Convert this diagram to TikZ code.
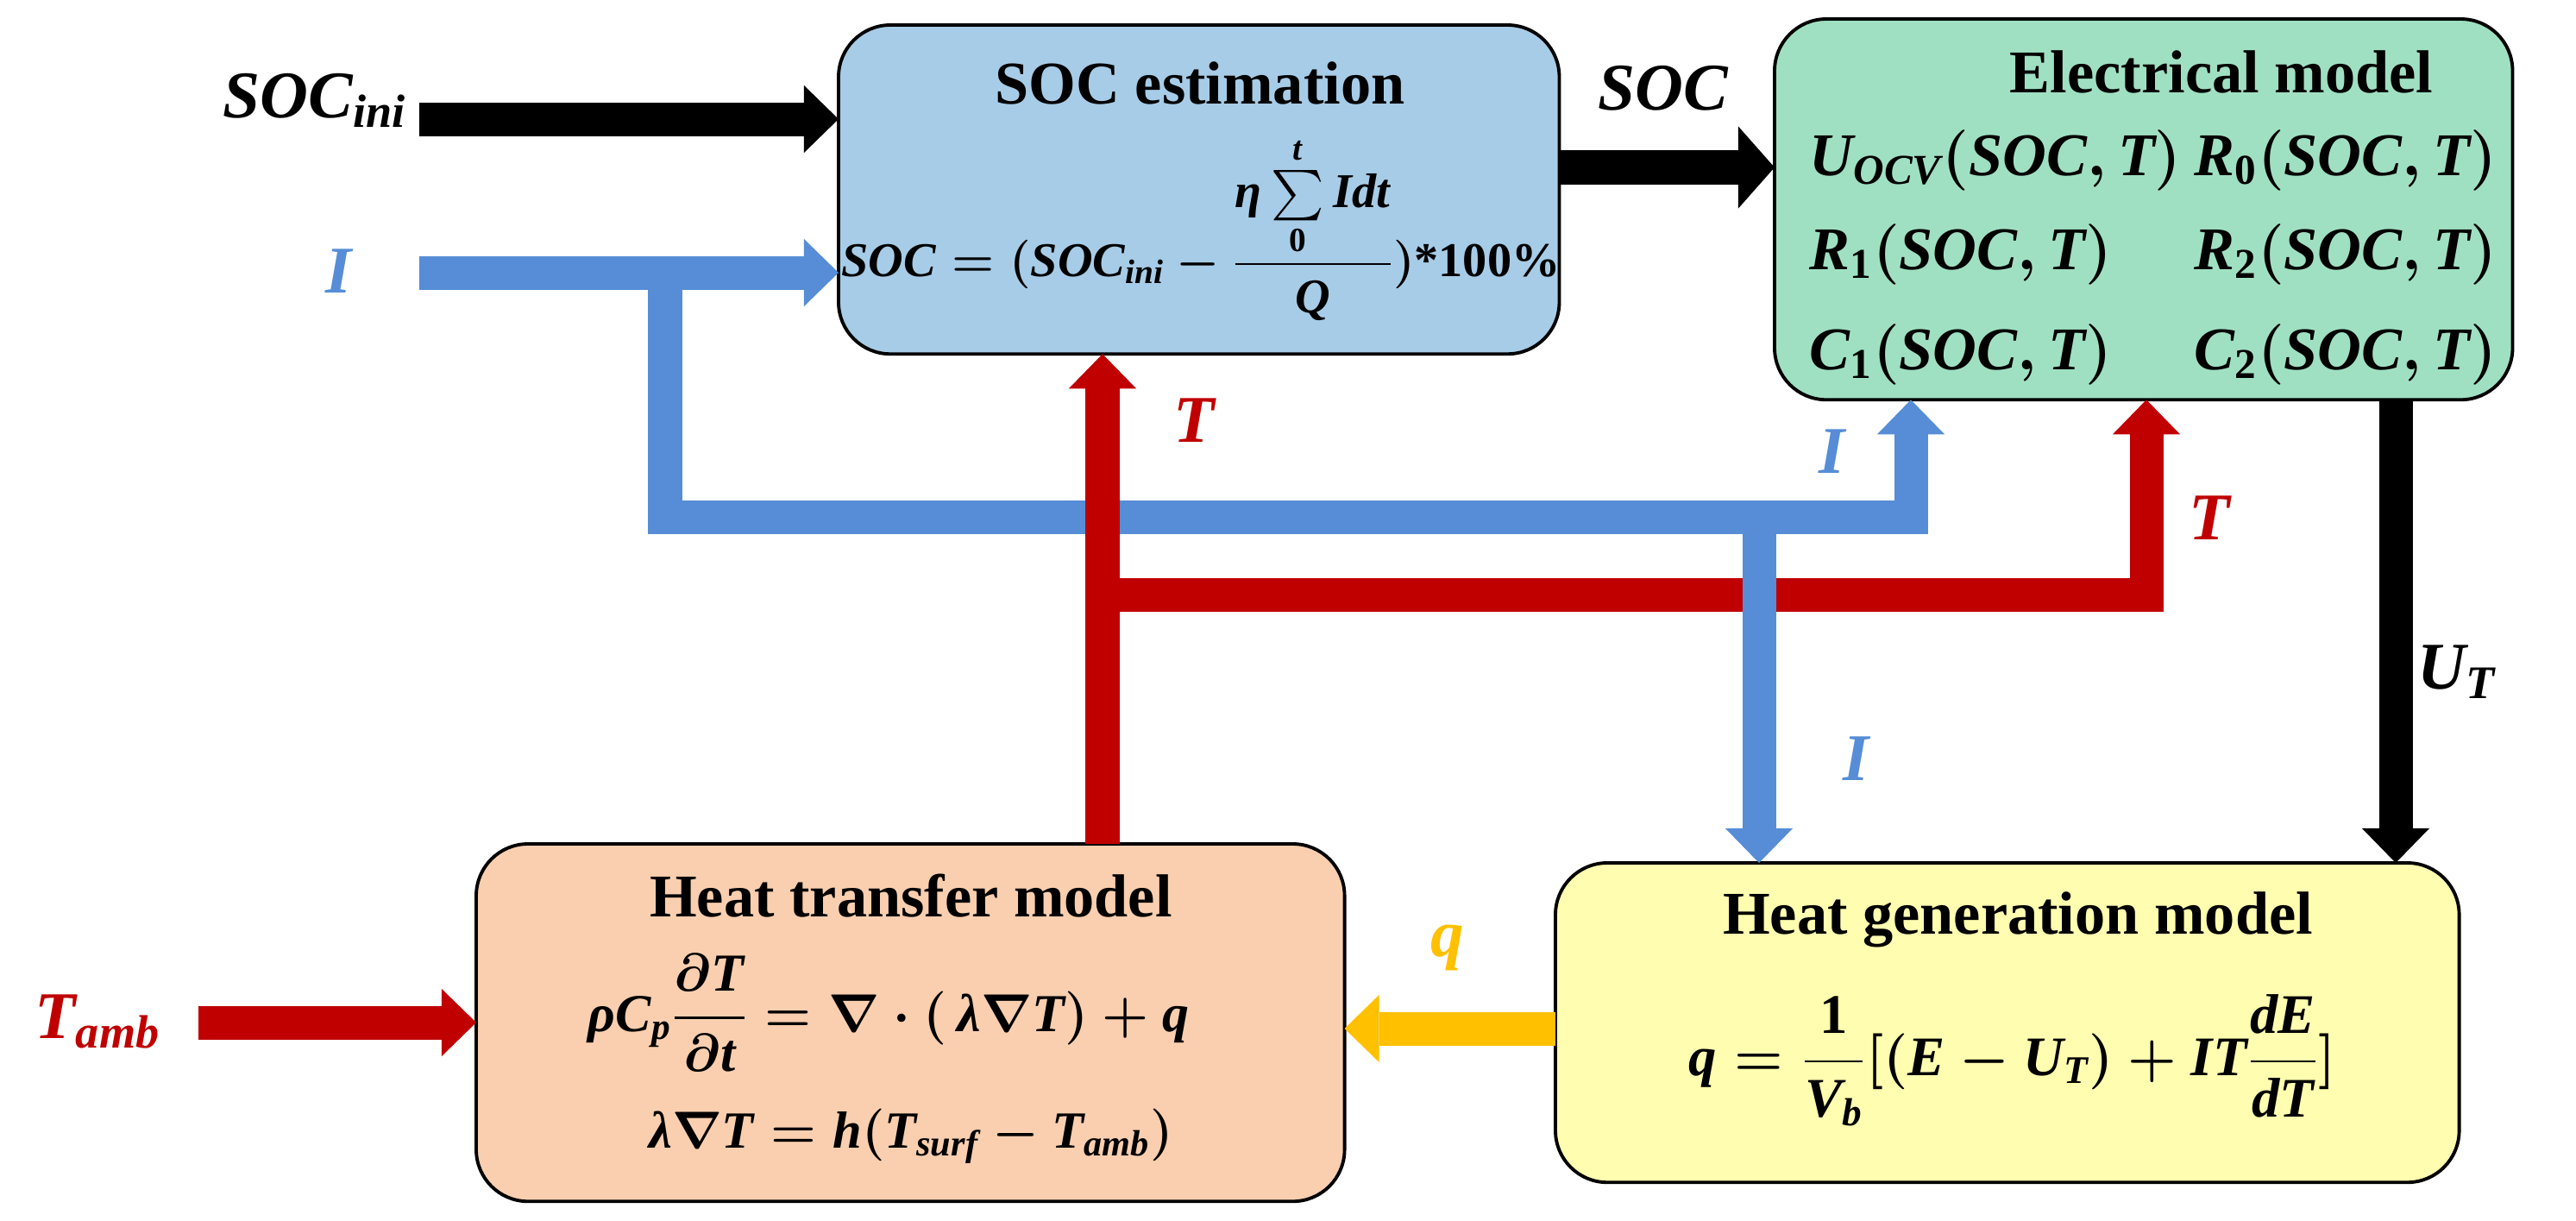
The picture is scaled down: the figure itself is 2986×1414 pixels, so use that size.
\RequirePackage{fix-cm}
\documentclass[tikz,border=0pt]{standalone}
\usepackage{amsmath}
\usepackage{graphicx}
\usepackage{fontspec}
\setmainfont{Liberation Serif}
\usetikzlibrary{arrows.meta}
\definecolor{socfill}{RGB}{167,204,231}
\definecolor{elfill}{RGB}{160,224,194}
\definecolor{htfill}{RGB}{249,207,175}
\definecolor{hgfill}{RGB}{255,253,176}
\definecolor{ablue}{RGB}{86,141,214}
\definecolor{ared}{RGB}{192,0,0}
\definecolor{ayel}{RGB}{255,192,0}
\newcommand\V[1]{\text{\bfseries\itshape #1}}
\newcommand\U[1]{\text{\bfseries #1}}
\tikzset{
  box/.style={draw=black, line width=1.1pt, rounded corners=0.6cm, anchor=north west, outer sep=0pt, inner sep=0pt},
  ttl/.style={font=\fontsize{20}{24}\selectfont\bfseries, inner sep=0pt, anchor=base},
  eqn/.style={font=\fontsize{20}{24}\selectfont\boldmath, inner sep=0pt, anchor=base},
  lab/.style={font=\fontsize{22}{26}\selectfont\boldmath, inner sep=0pt, anchor=base},
  seg/.style={line width=0.39cm, line join=miter},
  fat/.style={seg, -{Triangle[width=0.78cm,length=0.4cm,line width=0pt]}},
  fatter/.style={line width=0.40cm, -{Triangle[width=0.95cm,length=0.42cm,line width=0pt]}},
}
\begin{document}
\begin{tikzpicture}[x=0.01cm, y=-0.01cm]
\fill[white] (0,0) rectangle (2986,1414);
\useasboundingbox (0,0) rectangle (2986,1414);

% boxes
\node[box, fill=socfill, minimum width=8.35cm, minimum height=3.81cm] (soc) at (972,29) {};
\node[box, fill=elfill, minimum width=8.55cm, minimum height=4.41cm] (elec) at (2057,22) {};
\node[box, fill=htfill, minimum width=10.06cm, minimum height=4.14cm] (ht) at (552,978) {};
\node[box, fill=hgfill, minimum width=10.47cm, minimum height=3.70cm] (hg) at (1803,1000) {};

% coordinates
\coordinate (sinis) at (486,138);
\coordinate (socy) at (0,194);
\coordinate (iin) at (486,316);
\coordinate (bj) at (771,316);
\coordinate (bh) at (771,599);
\coordinate (bu) at (2215,599);
\coordinate (bd) at (2039,599);
\coordinate (rv) at (1278,689);
\coordinate (rh) at (2488,689);
\coordinate (ut) at (2777,0);
\coordinate (qy) at (0,1192);
\coordinate (tas) at (230,1185);

% connectors
\draw[fat, black] (sinis) -- (sinis -| soc.west);
\draw[fatter, black] (soc.east |- socy) -- (elec.west |- socy);
\draw[fat, ablue] (iin) -- (iin -| soc.west);
\draw[fat, ablue] (bj) -- (bh) -- (bu) -- (bu |- elec.south);
\draw[fat, ared] (rv |- ht.north) -- (rv |- soc.south);
\draw[fat, ared] (rv) -- (rh) -- (rh |- elec.south);
\draw[fat, ablue] (bd) -- (bd |- hg.north);
\draw[fat, black] (ut |- elec.south) -- (ut |- hg.north);
\draw[fat, ayel] (hg.west |- qy) -- (ht.east |- qy);
\draw[fat, ared] (tas) -- (tas -| ht.west);

% box texts
\node[ttl] (soct) at (1391,120) {SOC estimation};
\node[eqn] (soce) at (1392,320) {\scalebox{0.8}{$\V{SOC}=(\V{SOC}_{\V{ini}}-\dfrac{\V{η}\sum\limits_{\U{0}}^{\V{t}}\V{Idt}}{\V{Q}})\U{*100\%}$}};

\node[ttl] (elt) at (2575,107) {Electrical model};
\node[eqn, anchor=base west] (e1) at (2097,203) {$\V{U}_{\V{OCV}}(\V{SOC},\V{T})$};
\node[eqn, anchor=base west] (e2) at (2543,203) {$\V{R}_{\U{0}}(\V{SOC},\V{T})$};
\node[eqn, anchor=base west] (e3) at (2097,312) {$\V{R}_{\U{1}}(\V{SOC},\V{T})$};
\node[eqn, anchor=base west] (e4) at (2543,312) {$\V{R}_{\U{2}}(\V{SOC},\V{T})$};
\node[eqn, anchor=base west] (e5) at (2097,428) {$\V{C}_{\U{1}}(\V{SOC},\V{T})$};
\node[eqn, anchor=base west] (e6) at (2543,428) {$\V{C}_{\U{2}}(\V{SOC},\V{T})$};

\node[ttl] (htt) at (1056,1062) {Heat transfer model};
\node[eqn] (hte1) at (1030,1195) {\scalebox{0.88}{$\V{ρ}\V{C}_{\V{p}}\dfrac{\partial\V{T}}{\partial\V{t}}=\nabla\cdot(\,\V{λ}\nabla\V{T})+\V{q}$}};
\node[eqn] (hte2) at (1056,1330) {\scalebox{0.86}{$\V{λ}\nabla\V{T}=\V{h}(\V{T}_{\V{surf}}-\V{T}_{\V{amb}})$}};

\node[ttl] (hgt) at (2339,1082) {Heat generation model};
\node[eqn] (hge) at (2333,1246) {\scalebox{0.92}{$\V{q}=\dfrac{\U{1}}{\V{V}_{\V{b}}}[(\V{E}-\V{U}_{\V{T}})+\V{IT}\dfrac{\V{dE}}{\V{dT}}]$}};

% outside labels
\node[lab, anchor=base east] (lsocini) at (472,136) {$\V{SOC}_{\V{ini}}$};
\node[lab, text=ablue] (lI1) at (393,339) {$\V{I}$};
\node[lab] (lsoc) at (1928,127) {$\V{SOC}$};
\node[lab, text=ared] (lT1) at (1384,512) {$\V{T}$};
\node[lab, text=ablue] (lI2) at (2124,548) {$\V{I}$};
\node[lab, text=ared] (lT2) at (2561,625) {$\V{T}$};
\node[lab] (lUT) at (2848,798) {$\V{U}_{\V{T}}$};
\node[lab, text=ablue] (lI3) at (2152,904) {$\V{I}$};
\node[lab, text=ayel] (lq) at (1678,1108) {$\V{q}$};
\node[lab, text=ared, anchor=base west] (lTamb) at (40,1203) {$\V{T}_{\V{amb}}$};
\end{tikzpicture}
\end{document}
